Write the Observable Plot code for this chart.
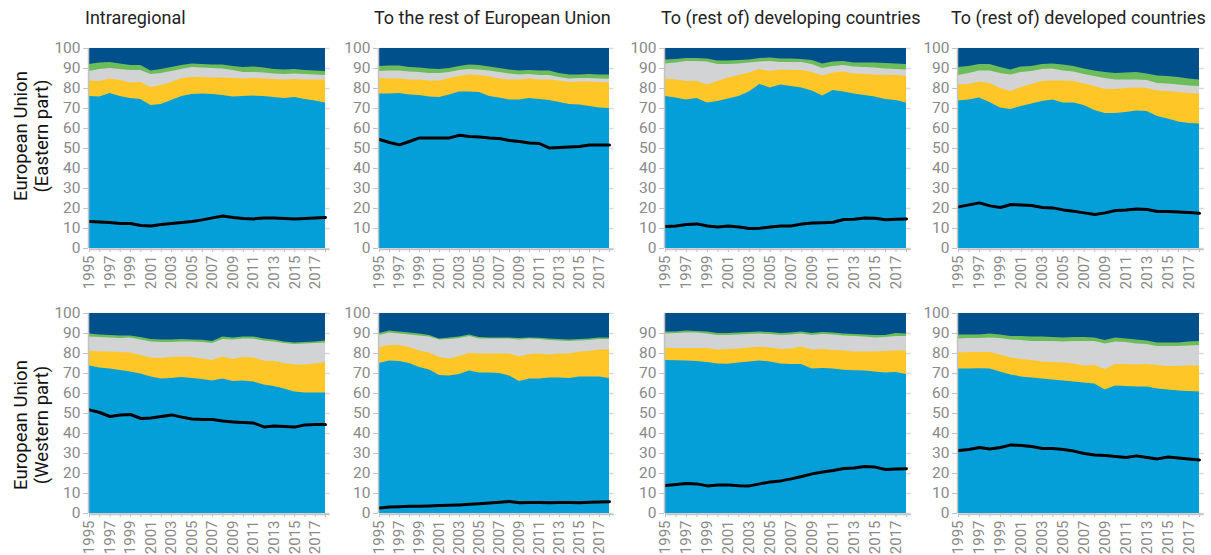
<!DOCTYPE html>
<html><head><meta charset="utf-8">
<script src="https://cdn.jsdelivr.net/npm/d3@7"></script>
<script src="https://cdn.jsdelivr.net/npm/@observablehq/plot@0.6"></script>
<style>
body{margin:0;background:#fff;}
#root{position:relative;width:1211px;height:555px;overflow:hidden;font-family:Roboto,"Liberation Sans",sans-serif;background:#fff;}
.title{position:absolute;font-size:18px;color:#222;white-space:nowrap;line-height:20px;}
.rowlab{position:absolute;width:200px;text-align:center;font-size:18.5px;line-height:21px;color:#111;transform:rotate(-90deg);}
svg.panel{position:absolute;}
</style></head><body><div id="root"></div>
<script>
const years = [1995,1996,1997,1998,1999,2000,2001,2002,2003,2004,2005,2006,2007,2008,2009,2010,2011,2012,2013,2014,2015,2016,2017,2018];
const colTitles = ["Intraregional","To the rest of European Union","To (rest of) developing countries","To (rest of) developed countries"];
const rowTitles = [["European Union","(Eastern part)"],["European Union","(Western part)"]];
const yTicks = [0,10,20,30,40,50,60,70,80,90,100];
const yTicksNo100 = [0,10,20,30,40,50,60,70,80,90];

// cumulative tops of the stacked layers (blue, yellow, gray, green; navy fills to 100) and the black line
const eastIntraBlue   = [76,75.8,77.5,76,75,74.5,71.5,72,74,76,77,77.2,77,76.5,75.8,76,76.2,76,75.5,75,75.5,74.5,73.8,72.8];
const eastIntraYellow = [83.8,83.5,84.8,84,82.8,83,80.5,81.5,83,85,85.5,85.5,85.3,85.2,85,84.8,85,84.8,84.5,84.2,84.5,84.2,84.2,84.2];
const eastIntraGray   = [88.5,89.5,90,89.5,89,89,87,87.5,88.5,89.5,90.5,90.2,90,89.8,89,88,88,87.8,87.2,87,87.2,87,86.8,86.5];
const eastIntraGreen  = [92,92.8,93,92.2,91.5,91.5,88.8,89.5,90.5,91.5,92.3,92,91.8,91.7,91,90.5,90.8,90.2,89.5,89.2,89.5,89,88.8,88.5];
const eastIntraLine   = [13.5,13.3,13,12.5,12.5,11.5,11.2,12,12.5,13,13.5,14.3,15.3,16.2,15.5,15,14.8,15.2,15.2,15,14.8,15,15.3,15.5];

const eastEUBlue   = [77.3,77.3,77.5,76.7,76.5,75.7,75.5,76.8,78.2,78.3,78,76,75.2,74.3,74.3,75,74.5,74,73,72,71.8,71,70.3,70];
const eastEUYellow = [85,84.8,84.8,84.3,84.2,83.8,83.8,85,86,86.8,86.5,85.8,84.7,84.3,84.3,84.7,84.3,84.3,83.8,83,83.3,83.2,83,82.7];
const eastEUGray   = [88.5,88.7,88.8,88.3,88,87.5,87.5,88,89,89.5,89.3,88.7,88,87.2,86.8,87,86.5,86.5,85.5,84.8,85,85,84.8,84.6];
const eastEUGreen  = [91,91.2,91.3,90.5,90.2,89.7,89.5,90,91,91.7,91.5,90.8,90,89.2,88.7,89,88.8,88.8,87.5,86.7,86.8,87,86.8,86.7];
const eastEULine   = [54.5,53,51.8,53.5,55.3,55.3,55.2,55.3,56.6,56,55.8,55.3,55,54,53.5,52.8,52.5,50.2,50.5,50.7,51,51.7,51.8,51.8];

const eastDevgBlue   = [76,75.2,74.3,75,72.8,73.5,74.8,76,78.2,82,80.3,81.8,81,80.2,78.8,76.3,79,78.3,77.2,76.5,75.7,74.5,74,72.8];
const eastDevgYellow = [84.8,84.2,83.5,83.5,81.8,83.5,85.3,86.5,87.8,89.5,88.5,89.3,89,89,88,86.3,87.8,88.2,87.3,87,86.7,86.5,86.5,86];
const eastDevgGray   = [92.3,92.8,93.5,93.5,93.3,92,92,92.3,92.8,93.3,93.5,93,93,93,92,90,91,91.5,90.8,90.5,90.3,89.8,89.5,89.2];
const eastDevgGreen  = [94.3,94.5,95,95,94.8,93.8,93.8,94,94.3,95,95.2,94.7,94.7,94.5,94,92.3,93.2,93.5,92.8,92.8,92.8,92.5,92.3,92];
const eastDevgLine   = [11,11.3,12,12.3,11.2,10.8,11.2,10.7,10,10.1,10.8,11.2,11.2,12.2,12.8,12.9,13.1,14.5,14.6,15.3,15.1,14.4,14.6,14.8];

const eastDevdBlue   = [73.8,74.2,75.3,73,70.2,69.5,71,72.3,73.5,74.3,72.8,72.8,71.5,69,67.5,67.5,68,68.8,68.5,66,64.8,63.3,62.5,62.2];
const eastDevdYellow = [81.8,82,83.2,82.5,80,78.5,80.5,82,83.5,83.8,83.8,83.5,82.3,81,79.5,79.5,80,80.3,80,78.8,78.5,78,77.5,77.3];
const eastDevdGray   = [86.5,87.5,88.8,88.8,87.5,86.8,88,88.5,89.5,89.8,88.8,88.3,87,86,85,84.3,84.2,84.3,84,82.5,82.3,81.8,81.2,81];
const eastDevdGreen  = [90.5,91,92,92,90.5,89.3,90.8,91,92,92.3,91.7,91,89.8,88.8,88,87.5,87.8,88,87.3,86.2,86,85.5,84.8,84.3];
const eastDevdLine   = [20.8,21.8,22.8,21.3,20.5,22,21.8,21.5,20.5,20.3,19.3,18.6,17.8,17,17.8,19,19.2,19.8,19.5,18.5,18.5,18.3,18,17.6];

const westIntraBlue   = [73.7,72.8,72.2,71.5,70.8,69.8,68.3,67.2,67.5,68,67.5,67,66.3,67.2,66,66.3,65.8,64.3,63.5,62.2,60.8,60.3,60.2,60.2];
const westIntraYellow = [81.2,80.8,80.8,80.5,80.2,79,77.7,77.5,78,78.3,78,77.3,76.5,78.2,77,78,77.7,76.3,76,75,74.3,74.2,74.8,75.5];
const westIntraGray   = [88.2,88,87.8,87.5,87.8,86.8,85.8,85.5,85.5,85.8,85.8,85.5,85,87,86.8,87.2,87.2,86.2,85.8,85,84.5,84.8,85,85.3];
const westIntraGreen  = [89.8,89.2,89,88.8,88.8,88,87,86.7,86.7,87,86.8,86.6,86,88.2,87.8,88.3,88.3,87.3,86.8,85.8,85.3,85.5,85.8,86.2];
const westIntraLine   = [51.8,50.5,48.5,49.2,49.5,47.5,47.8,48.5,49.3,48.2,47.2,47,47,46.2,45.8,45.5,45.2,43.3,43.7,43.5,43.2,44.3,44.5,44.5];

const westEUBlue   = [75,76.3,76,75,73,71.8,69,68.8,69.5,71.2,70.2,70.2,70,68.8,66,67.3,67.3,67.7,67.7,67.5,68.2,68.2,68.2,67.5];
const westEUYellow = [83,84,84,83,81.2,80.3,78,77.2,78.5,80,79.8,79.8,79.8,79.8,78.3,79.5,79.7,79.2,79.7,79.8,80.7,81,81.7,81.7];
const westEUGray   = [89,90.3,89.8,89.3,88.8,88.2,86.7,87,87.5,88.5,87.3,87.2,87.2,87.2,86.8,87.2,87,86.5,86.3,86,86.3,86.5,87,87];
const westEUGreen  = [90,91.3,90.8,90.3,89.7,89,87.3,87.7,88.2,89.3,88,87.8,87.8,87.8,87.5,87.8,87.6,87.2,87,86.8,87,87.2,87.7,87.7];
const westEULine   = [2.8,3.2,3.4,3.6,3.6,3.8,4,4.1,4.3,4.6,4.9,5.3,5.6,6,5.4,5.5,5.5,5.4,5.5,5.5,5.4,5.6,5.8,5.9];

const westDevgBlue   = [76.5,76.4,76.2,76,75.5,74.8,74.6,75.2,75.7,76.2,75.8,74.8,74.5,74.5,72.2,72.5,72.3,71.6,71.4,71.2,70.8,70.3,70.5,69.5];
const westDevgYellow = [82.6,82.5,82.5,82.5,82.5,81.8,82,82.3,82.8,83.2,82.8,82,82.3,83.2,81.8,82,81.5,81.2,80.8,80.7,80.7,81,81.3,81.2];
const westDevgGray   = [89.8,90,90.3,90.2,89.8,89,89,89.2,89.5,89.7,89.5,89,89.2,89.8,89,89.5,89.2,88.8,88.5,88.2,87.8,88,88.5,88.5];
const westDevgGreen  = [90.8,90.8,91.2,91,90.7,90,90,90.2,90.5,90.7,90.5,90,90.3,90.8,90,90.5,90.2,89.8,89.5,89.3,89,89,90,89.8];
const westDevgLine   = [14,14.5,15,14.8,13.8,14.2,14.2,13.9,13.8,14.8,15.8,16.3,17.3,18.5,19.8,20.7,21.5,22.5,22.8,23.5,23.2,22,22.3,22.4];

const westDevdBlue   = [72.2,72.2,72.4,72.2,70.7,69.3,68.3,67.8,67.2,66.7,66.3,65.8,65.2,64.7,61.7,63.8,63.5,63.3,63.3,62.3,61.7,61.2,61,60.8];
const westDevdYellow = [80.2,80.5,80.5,80.5,79.2,77.7,77,76.5,75.8,75.5,75.2,74.7,73.8,74,72,74.5,74.5,74.3,74.5,74,73.5,73.5,73.7,73.8];
const westDevdGray   = [87.3,87.5,87.5,87.8,87.5,86.8,86.5,86,86,86,85.8,86,86,86,84.7,85.8,85.5,84.8,84.5,83.5,83.5,83.5,83.8,84];
const westDevdGreen  = [89.2,89.2,89.2,89.7,89.3,88.5,88.5,88.2,88.2,88,87.8,88,88,87.8,86.5,87.7,87.3,86.7,86.3,85.3,85.3,85.2,85.7,86];
const westDevdLine   = [31.5,32,33,32.3,33,34.3,34,33.5,32.5,32.5,32,31.2,30,29.3,29,28.5,28,28.8,28,27.3,28.2,27.8,27.3,26.8];

const colors = {blue:"#049fd9", yellow:"#ffc627", gray:"#d2d3d5", green:"#6cbd5a", navy:"#00508c", line:"#000000"};

const panels = [
  {row:0,col:0,s:[eastIntraBlue,eastIntraYellow,eastIntraGray,eastIntraGreen],line:eastIntraLine,ticks:yTicks},
  {row:0,col:1,s:[eastEUBlue,eastEUYellow,eastEUGray,eastEUGreen],line:eastEULine,ticks:yTicks},
  {row:0,col:2,s:[eastDevgBlue,eastDevgYellow,eastDevgGray,eastDevgGreen],line:eastDevgLine,ticks:yTicks},
  {row:0,col:3,s:[eastDevdBlue,eastDevdYellow,eastDevdGray,eastDevdGreen],line:eastDevdLine,ticks:yTicks},
  {row:1,col:0,s:[westIntraBlue,westIntraYellow,westIntraGray,westIntraGreen],line:westIntraLine,ticks:yTicks},
  {row:1,col:1,s:[westEUBlue,westEUYellow,westEUGray,westEUGreen],line:westEULine,ticks:yTicks},
  {row:1,col:2,s:[westDevgBlue,westDevgYellow,westDevgGray,westDevgGreen],line:westDevgLine,ticks:yTicksNo100},
  {row:1,col:3,s:[westDevdBlue,westDevdYellow,westDevdGray,westDevdGreen],line:westDevdLine,ticks:yTicks}
];

const root = document.getElementById("root");
const colLeft = [89, 379, 665, 958];
const colWidth = [236, 230, 241, 241];
const rowTop = [48, 313];
const titleLeft = [85, 374, 661, 951];
const xMax = 2018.45;
const mL = 42, mR = 4, mT = 10, mB = 45, plotH = 200;
const axisGray = "#c3c3c3", labelGray = "#8a8a8a";

for (const p of panels) {
  const rangeW = colWidth[p.col] * (xMax - 1995) / (2018 - 1995);
  const data = years.map((yr, i) => ({year: yr, b: p.s[0][i], y: p.s[1][i], g: p.s[2][i], gr: p.s[3][i], top: 100, l: p.line[i]}));
  const svg = Plot.plot({
    width: mL + rangeW + mR,
    height: mT + plotH + mB,
    marginLeft: mL, marginRight: mR, marginTop: mT, marginBottom: mB,
    style: {fontFamily: "Roboto, sans-serif", fontSize: "15px", background: "transparent", overflow: "visible"},
    x: {domain: [1995, xMax]},
    y: {domain: [0, 100]},
    marks: [
      Plot.ruleY(yTicks, {stroke: "#d9d9d9", strokeWidth: 1.5}),
      Plot.areaY(data, {x: "year", y1: 0, y2: "top", fill: colors.navy}),
      Plot.areaY(data, {x: "year", y1: 0, y2: "gr", fill: colors.green}),
      Plot.areaY(data, {x: "year", y1: 0, y2: "g", fill: colors.gray}),
      Plot.areaY(data, {x: "year", y1: 0, y2: "y", fill: colors.yellow}),
      Plot.areaY(data, {x: "year", y1: 0, y2: "b", fill: colors.blue}),
      Plot.line(data, {x: "year", y: "l", stroke: colors.line, strokeWidth: 3}),
      Plot.ruleY([0], {stroke: axisGray, strokeWidth: 1.5, dy: 1}),
      Plot.ruleX([1995], {stroke: axisGray, strokeWidth: 1.5, dx: -1}),
      Plot.axisY(p.ticks, {tickSize: 5, tickPadding: 3, stroke: axisGray, fill: labelGray, fontSize: 15.5, label: null, dx: -1}),
      Plot.axisX(years, {tickSize: 4, tickPadding: 3, tickRotate: -90, stroke: axisGray, fill: labelGray, fontSize: 15, label: null,
        tickFormat: d => ((d - 1995) % 2 === 0 ? String(d) : "")})
    ]
  });
  svg.classList.add("panel");
  svg.style.left = (colLeft[p.col] - mL) + "px";
  svg.style.top = (rowTop[p.row] - mT) + "px";
  root.appendChild(svg);
}

colTitles.forEach((t, i) => {
  const d = document.createElement("div");
  d.className = "title";
  d.textContent = t;
  d.style.left = titleLeft[i] + "px";
  d.style.top = "8px";
  root.appendChild(d);
});

const rowCenters = [136, 425];
rowTitles.forEach((lines, i) => {
  const d = document.createElement("div");
  d.className = "rowlab";
  d.innerHTML = lines.map(s => `<div>${s}</div>`).join("");
  d.style.left = (32 - 100) + "px";
  d.style.top = (rowCenters[i] - 21) + "px";
  root.appendChild(d);
});
</script>
</body></html>
